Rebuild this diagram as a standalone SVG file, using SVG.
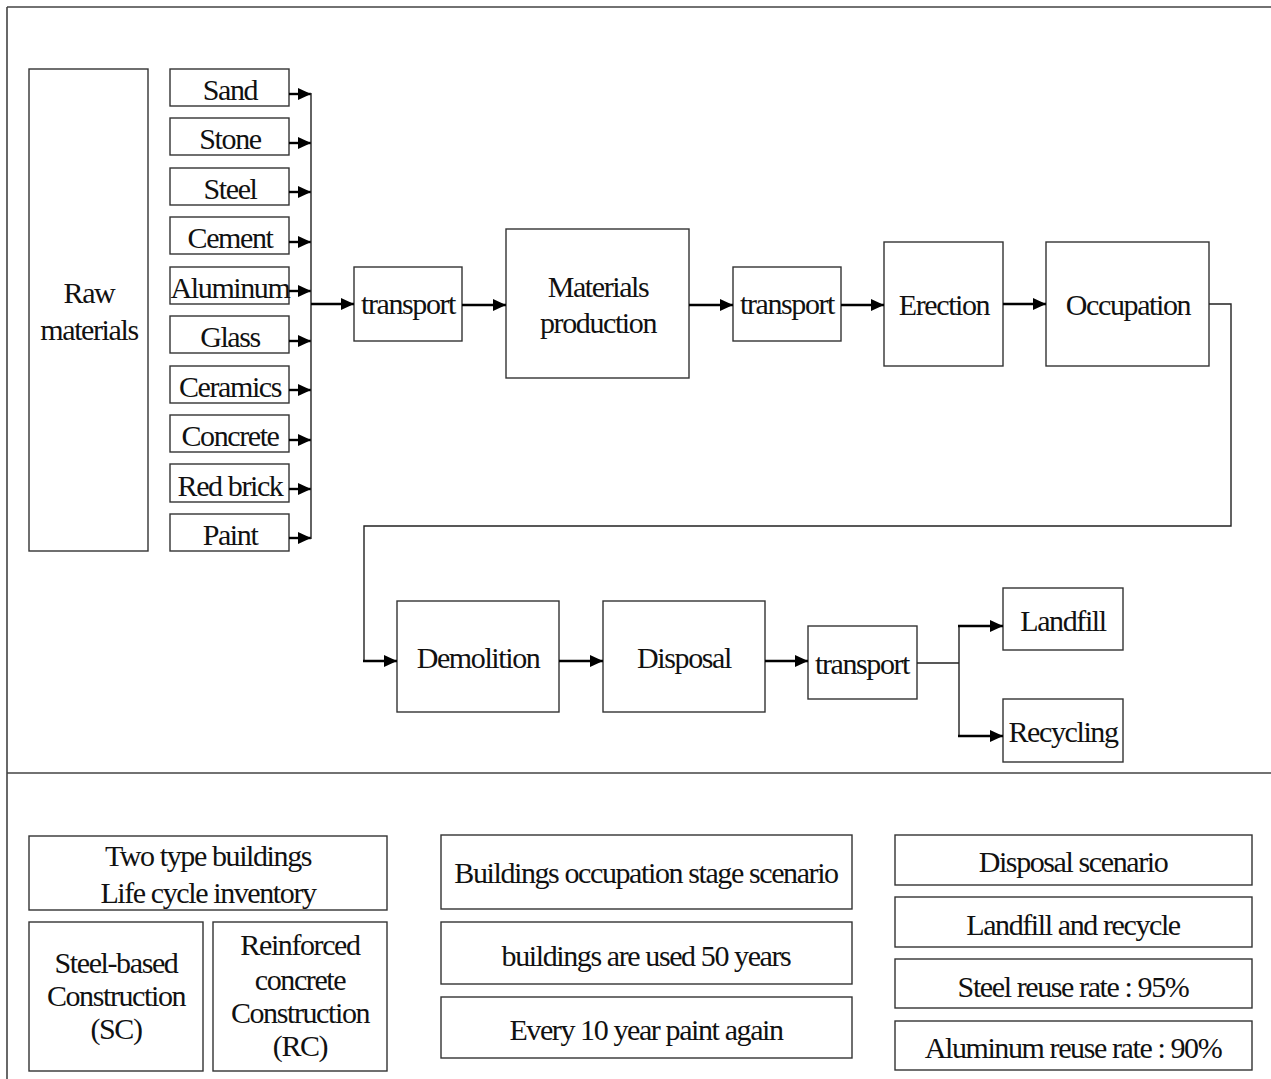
<svg xmlns="http://www.w3.org/2000/svg" width="1271" height="1079" viewBox="0 0 1271 1079">
<defs>
<marker id="ah" markerUnits="userSpaceOnUse" markerWidth="14" markerHeight="14" viewBox="0 0 14 14" refX="13" refY="7" orient="auto">
<path d="M0,1 L13,7 L0,13 Z" fill="#000"/>
</marker>
<style>
rect{fill:#fff;stroke:#333;stroke-width:1.4}
text{font-family:'Liberation Serif','Times New Roman',serif;font-size:30px;letter-spacing:-1.4px;text-anchor:middle;fill:#111}
.a{fill:none;stroke:#000;stroke-width:2.4;marker-end:url(#ah)}
.l{fill:none;stroke:#222;stroke-width:1.4}
.f{fill:none;stroke:#444;stroke-width:1.6}
</style>
</defs>
<rect x="0" y="0" width="1271" height="1079" style="stroke:none"/>
<g id="frame">
<path class="f" d="M7,7 H1271 M7,7 V1079 M7,773 H1271"/>
</g>
<g id="raw"><rect x="29" y="69" width="119" height="482"/><text x="89" y="303">Raw</text><text x="89" y="340">materials</text></g>
<g id="sand"><rect x="170" y="69" width="119" height="37"/><text x="230" y="100">Sand</text></g>
<g id="stone"><rect x="170" y="118" width="119" height="37"/><text x="230" y="149">Stone</text></g>
<g id="steel"><rect x="170" y="168" width="119" height="37"/><text x="230" y="199">Steel</text></g>
<g id="cement"><rect x="170" y="217" width="119" height="37"/><text x="230" y="248">Cement</text></g>
<g id="aluminum"><rect x="170" y="267" width="119" height="37"/><text x="230" y="298">Aluminum</text></g>
<g id="glass"><rect x="170" y="316" width="119" height="37"/><text x="230" y="347">Glass</text></g>
<g id="ceramics"><rect x="170" y="366" width="119" height="37"/><text x="230" y="397">Ceramics</text></g>
<g id="concrete"><rect x="170" y="415" width="119" height="37"/><text x="230" y="446">Concrete</text></g>
<g id="redbrick"><rect x="170" y="464" width="119" height="38"/><text x="230" y="496">Red brick</text></g>
<g id="paint"><rect x="170" y="514" width="119" height="37"/><text x="230" y="545">Paint</text></g>
<g id="transport1"><rect x="354" y="267" width="108" height="74"/><text x="408" y="314">transport</text></g>
<g id="production"><rect x="506" y="229" width="183" height="149"/><text x="598" y="297">Materials</text><text x="598" y="333">production</text></g>
<g id="transport2"><rect x="733" y="267" width="108" height="74"/><text x="787" y="314">transport</text></g>
<g id="erection"><rect x="884" y="242" width="119" height="124"/><text x="944" y="315">Erection</text></g>
<g id="occupation"><rect x="1046" y="242" width="163" height="124"/><text x="1128" y="315">Occupation</text></g>
<g id="demolition"><rect x="397" y="601" width="162" height="111"/><text x="478" y="668">Demolition</text></g>
<g id="disposal"><rect x="603" y="601" width="162" height="111"/><text x="684" y="668">Disposal</text></g>
<g id="transport3"><rect x="808" y="626" width="109" height="73"/><text x="862" y="674">transport</text></g>
<g id="landfill"><rect x="1003" y="588" width="120" height="62"/><text x="1063" y="631">Landfill</text></g>
<g id="recycling"><rect x="1003" y="699" width="120" height="63"/><text x="1063" y="742">Recycling</text></g>
<g id="inventory"><rect x="29" y="836" width="358" height="74"/><text x="208" y="866">Two type buildings</text><text x="208" y="903">Life cycle inventory</text></g>
<g id="sc"><rect x="29" y="922" width="174" height="149"/><text x="116" y="973">Steel-based</text><text x="116" y="1006">Construction</text><text x="116" y="1039">(SC)</text></g>
<g id="rc"><rect x="213" y="922" width="174" height="149"/><text x="300" y="955">Reinforced</text><text x="300" y="990">concrete</text><text x="300" y="1023">Construction</text><text x="300" y="1056">(RC)</text></g>
<g id="occscenario"><rect x="441" y="835" width="411" height="74"/><text x="646" y="883">Buildings occupation stage scenario</text></g>
<g id="used50"><rect x="441" y="922" width="411" height="62"/><text x="646" y="966">buildings are used 50 years</text></g>
<g id="paint10"><rect x="441" y="997" width="411" height="61"/><text x="646" y="1040">Every 10 year paint again</text></g>
<g id="dispscenario"><rect x="895" y="835" width="357" height="50"/><text x="1073" y="872">Disposal scenario</text></g>
<g id="landrec"><rect x="895" y="897" width="357" height="50"/><text x="1073" y="935">Landfill and recycle</text></g>
<g id="steelrate"><rect x="895" y="959" width="357" height="49"/><text x="1073" y="997">Steel reuse rate : 95%</text></g>
<g id="alrate"><rect x="895" y="1021" width="357" height="49"/><text x="1073" y="1058">Aluminum reuse rate : 90%</text></g>
<g id="connectors">
<path class="a" d="M289,94 H311"/>
<path class="a" d="M289,143 H311"/>
<path class="a" d="M289,192 H311"/>
<path class="a" d="M289,242 H311"/>
<path class="a" d="M289,291 H311"/>
<path class="a" d="M289,341 H311"/>
<path class="a" d="M289,390 H311"/>
<path class="a" d="M289,440 H311"/>
<path class="a" d="M289,489 H311"/>
<path class="a" d="M289,538 H311"/>
<path class="l" d="M311,93 V539"/>
<path class="a" d="M311,304 H354"/>
<path class="a" d="M462,305 H506"/>
<path class="a" d="M689,305 H733"/>
<path class="a" d="M841,305 H884"/>
<path class="a" d="M1003,304 H1046"/>
<path class="l" d="M1209,304 H1231 V526 H364 V661"/>
<path class="a" d="M363,661 H397"/>
<path class="a" d="M559,661 H603"/>
<path class="a" d="M765,661 H808"/>
<path class="l" d="M917,663 H959 M959,625 V737"/>
<path class="a" d="M958,626 H1003"/>
<path class="a" d="M958,736 H1003"/>
</g>
</svg>
